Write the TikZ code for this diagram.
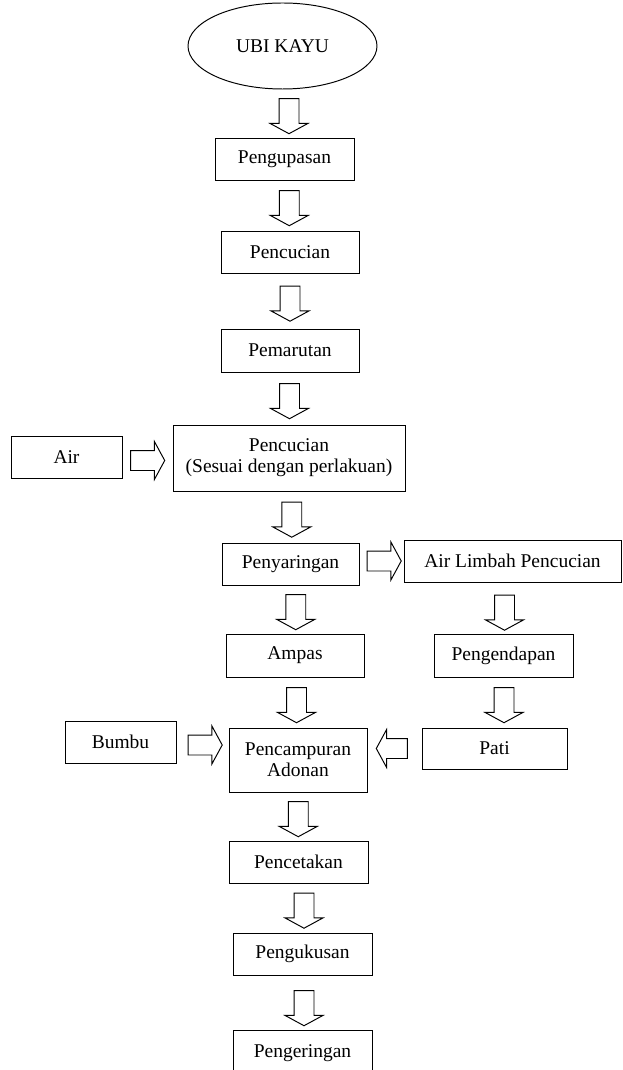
\documentclass[tikz,border=0pt]{standalone}
\usepackage{fontspec}
\setmainfont{Liberation Serif}
\usetikzlibrary{shapes.geometric,shapes.arrows,calc,positioning}
\newcommand{\pxl}{0.616pt}
\tikzset{
	proc/.style={draw, line width=0.6pt, inner sep=0pt, align=center,
		font=\fontsize{12}{13}\selectfont},
	startnode/.style={proc, ellipse},
	downarr/.style={draw, line width=0.6pt, single arrow, shape border rotate=270,
		single arrow head extend=9*\pxl, single arrow tip angle=123,
		minimum width=37*\pxl, minimum height=35*\pxl,
		inner sep=9.5*\pxl},
	rightarr/.style={downarr, shape border rotate=0, minimum height=34*\pxl},
	leftarr/.style={downarr, shape border rotate=180, minimum height=31*\pxl},
}
\begin{document}
\begin{tikzpicture}[x=\pxl, y=-\pxl]
		\useasboundingbox (0,0) rectangle (622,1070);
		
		% --- main line ---
		\node[startnode, minimum width=189*\pxl, minimum height=86*\pxl] (ubi) at (282.5,46) {UBI KAYU};
		\node[proc, minimum width=139*\pxl, minimum height=42*\pxl] (pengupasan) at (284.5,159) {Pengupasan};
		\node[proc, minimum width=138*\pxl, minimum height=42*\pxl] (pencucian) at (290,252) {Pencucian};
		\node[proc, minimum width=138*\pxl, minimum height=43*\pxl] (pemarutan) at (290,350.5) {Pemarutan};
		\node[proc, minimum width=232*\pxl, minimum height=66*\pxl] (cuci2) at (289,458) {Pencucian\\(Sesuai dengan perlakuan)};
		\node[proc, minimum width=137*\pxl, minimum height=42*\pxl] (penyaringan) at (290.5,564) {Penyaringan};
		\node[proc, minimum width=138*\pxl, minimum height=43*\pxl] (ampas) at (295,655.5) {Ampas};
		\node[proc, minimum width=138*\pxl, minimum height=64*\pxl] (pencampuran) at (298,760) {Pencampuran\\Adonan};
		\node[proc, minimum width=139*\pxl, minimum height=42*\pxl] (pencetakan) at (298.5,862) {Pencetakan};
		\node[proc, minimum width=139*\pxl, minimum height=42*\pxl] (pengukusan) at (302.5,954) {Pengukusan};
		\node[proc, minimum width=139*\pxl, minimum height=46*\pxl] (pengeringan) at (302.5,1053) {Pengeringan};
		
		% --- side inputs ---
		\node[proc, minimum width=111*\pxl, minimum height=42*\pxl] (air) at (66.5,457) {Air};
		\node[proc, minimum width=111*\pxl, minimum height=42*\pxl] (bumbu) at (120.5,742) {Bumbu};
		
		% --- waste water branch ---
		\node[proc, minimum width=217*\pxl, minimum height=42*\pxl] (limbah) at (512.5,561) {Air Limbah Pencucian};
		\node[proc, minimum width=139*\pxl, minimum height=43*\pxl] (pengendapan) at (503.5,655.5) {Pengendapan};
		\node[proc, minimum width=145*\pxl, minimum height=41*\pxl] (pati) at (494.5,748.5) {Pati};
		
		% block arrows
		\node[downarr] (a1) at ($(ubi.south)!.5!(pengupasan.north)+(5.5,0)$) {};
		\node[downarr] (a2) at ($(pengupasan.south)!.5!(pencucian.north)+(2,0)$) {};
		\node[downarr] (a3) at ($(pencucian.south)!.5!(pemarutan.north)$) {};
		\node[downarr] (a4) at ($(pemarutan.south)!.5!(cuci2.north)$) {};
		\node[rightarr] (a0) at ($(air.east)!.5!(air.east -| cuci2.west)+(-2.5,3.5)$) {};
		\node[downarr] (a5) at ($(cuci2.south)!.5!(penyaringan.north)+(2,0)$) {};
		\node[rightarr] (a6) at ($(limbah.west)!.5!(limbah.west -| penyaringan.east)$) {};
		\node[downarr] (a7) at ($(penyaringan.south)!.5!(ampas.north)+(3,0)$) {};
		\node[downarr] (a8) at ($(limbah.south)!.5!(pengendapan.north)+(-3.5,2)$) {};
		\node[downarr] (a9) at ($(ampas.south)!.5!(pencampuran.north)$) {};
		\node[downarr] (a10) at ($(pengendapan.south)!.5!(pati.north)+(5,0)$) {};
		\node[rightarr] (a11) at ($(bumbu.east)!.5!(bumbu.east -| pencampuran.west)+(0,3)$) {};
		\node[leftarr] (a12) at ($(pati.west)!.5!(pati.west -| pencampuran.east)$) {};
		\node[downarr] (a13) at ($(pencampuran.south)!.5!(pencetakan.north)$) {};
		\node[downarr] (a14) at ($(pencetakan.south)!.5!(pengukusan.north)+(3.5,0)$) {};
		\node[downarr] (a15) at ($(pengukusan.south)!.5!(pengeringan.north)+(1.5,3)$) {};
		
	\end{tikzpicture}
\end{document}
